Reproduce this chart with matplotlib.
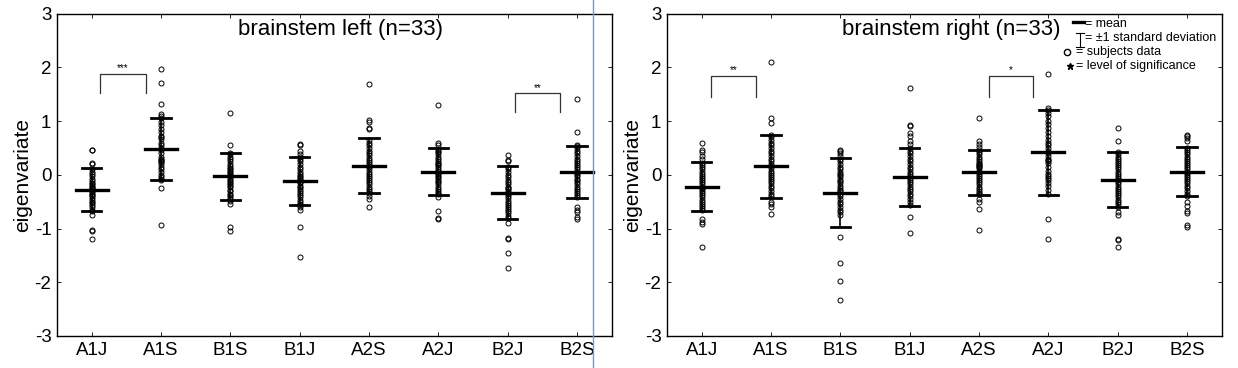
import matplotlib
matplotlib.use('Agg')
import matplotlib.pyplot as plt
from matplotlib.lines import Line2D

plt.rcParams['font.family'] = ['Liberation Sans', 'DejaVu Sans']
plt.rcParams['axes.unicode_minus'] = False

groups_left = ['A1J', 'A1S', 'B1S', 'B1J', 'A2S', 'A2J', 'B2J', 'B2S']
groups_right = ['A1J', 'A1S', 'B1S', 'B1J', 'A2S', 'A2J', 'B2J', 'B2S']

# group means and standard deviations
left_mean = [-0.28, 0.48, -0.03, -0.12, 0.17, 0.06, -0.33, 0.05]
left_sd = [0.40, 0.58, 0.44, 0.45, 0.51, 0.43, 0.50, 0.49]
right_mean = [-0.22, 0.16, -0.33, -0.04, 0.05, 0.42, -0.09, 0.06]
right_sd = [0.45, 0.59, 0.64, 0.54, 0.42, 0.795, 0.515, 0.45]

# subject data, left panel
l_a1j = [0.47, 0.46, 0.22, 0.2, -0.75, -1.02, -1.04, -1.2, 0.1, 0.05, 0.02, -0.03, -0.08,
         -0.12, -0.15, -0.18, -0.2, -0.23, -0.25, -0.27, -0.3, -0.32, -0.35, -0.38, -0.4,
         -0.43, -0.46, -0.5, -0.53, -0.57, -0.6, -0.65, -0.68]
l_a1s = [1.96, 1.7, 1.32, 1.13, 1.1, -0.25, -0.93, 1.05, 0.98, 0.92, 0.85, 0.8, 0.72, 0.66,
         0.6, 0.55, 0.5, 0.46, 0.4, 0.33, 0.28, 0.25, 0.2, 0.15, 0.1, 0.05, 0.0, -0.05,
         -0.08, -0.1, 0.3, 0.24, 0.7]
l_b1s = [1.15, 0.56, -0.55, -0.98, -1.05, 0.4, 0.38, 0.33, 0.3, 0.25, 0.2, 0.17, 0.12, 0.1,
         0.05, 0.02, 0.0, -0.03, -0.06, -0.1, -0.12, -0.15, -0.18, -0.2, -0.23, -0.28, -0.3,
         -0.35, -0.38, -0.42, -0.45, -0.48, 0.08]
l_b1j = [0.57, 0.55, 0.45, 0.38, -0.6, -0.65, -0.97, -1.53, 0.33, 0.3, 0.25, 0.2, 0.15, 0.1,
         0.05, 0.02, -0.02, -0.05, -0.08, -0.1, -0.13, -0.16, -0.2, -0.23, -0.26, -0.3,
         -0.34, -0.38, -0.42, -0.46, -0.5, -0.54, -0.57]
l_a2s = [1.69, 1.02, 0.98, 0.88, 0.86, -0.4, -0.45, -0.6, 0.65, 0.6, 0.55, 0.5, 0.45, 0.4,
         0.36, 0.32, 0.28, 0.24, 0.2, 0.17, 0.14, 0.1, 0.06, 0.02, -0.02, -0.06, -0.1,
         -0.14, -0.18, -0.22, -0.26, -0.3, -0.34]
l_a2j = [1.29, 0.6, 0.55, -0.42, -0.68, -0.8, -0.83, 0.48, 0.45, 0.42, 0.38, 0.34, 0.3,
         0.26, 0.22, 0.18, 0.14, 0.1, 0.07, 0.04, 0.01, -0.02, -0.05, -0.08, -0.11, -0.14,
         -0.18, -0.22, -0.26, -0.3, -0.33, -0.36, 0.2]
l_b2j = [0.37, 0.27, 0.25, -0.9, -1.17, -1.2, -1.45, -1.74, 0.15, 0.1, 0.05, 0.0, -0.05,
         -0.1, -0.14, -0.18, -0.22, -0.26, -0.3, -0.33, -0.36, -0.4, -0.44, -0.48, -0.52,
         -0.56, -0.6, -0.64, -0.68, -0.72, -0.76, -0.8, -0.25]
l_b2s = [1.41, 0.8, 0.56, -0.6, -0.65, -0.7, -0.78, -0.83, 0.54, 0.5, 0.45, 0.4, 0.35, 0.3,
         0.26, 0.22, 0.18, 0.14, 0.1, 0.06, 0.03, 0.0, -0.03, -0.07, -0.1, -0.14, -0.18,
         -0.22, -0.26, -0.3, -0.34, -0.38, -0.42]

# subject data, right panel
r_a1j = [0.6, 0.47, 0.43, 0.35, 0.3, -0.82, -0.88, -0.92, -1.35, 0.22, 0.18, 0.14, 0.1,
         0.06, 0.02, -0.02, -0.06, -0.1, -0.14, -0.18, -0.22, -0.26, -0.3, -0.34, -0.38,
         -0.42, -0.46, -0.5, -0.54, -0.58, -0.62, -0.66, -0.25]
r_a1s = [2.1, 1.05, 0.97, -0.5, -0.55, -0.6, -0.73, 0.74, 0.7, 0.65, 0.6, 0.55, 0.5, 0.45,
         0.4, 0.35, 0.3, 0.25, 0.2, 0.16, 0.12, 0.08, 0.04, 0.0, -0.04, -0.08, -0.12, -0.16,
         -0.2, -0.25, -0.3, -0.35, -0.4]
r_b1s = [0.47, 0.44, 0.4, 0.35, -1.15, -1.65, -1.97, -2.33, 0.3, 0.25, 0.2, 0.15, 0.1,
         0.05, 0.0, -0.05, -0.1, -0.15, -0.2, -0.25, -0.3, -0.35, -0.4, -0.45, -0.5, -0.55,
         -0.6, -0.65, -0.7, -0.75, 0.02, -0.12, -0.28]
r_b1j = [1.62, 0.92, 0.9, 0.78, 0.73, 0.62, 0.58, -0.78, -1.08, 0.5, 0.45, 0.4, 0.35, 0.3,
         0.25, 0.2, 0.15, 0.1, 0.06, 0.02, -0.02, -0.06, -0.1, -0.14, -0.18, -0.22, -0.26,
         -0.3, -0.35, -0.4, -0.45, -0.5, -0.56]
r_a2s = [1.05, 0.62, 0.58, 0.52, -0.45, -0.5, -0.63, -1.02, 0.47, 0.43, 0.38, 0.34, 0.3,
         0.26, 0.22, 0.19, 0.17, 0.15, 0.12, 0.08, 0.05, 0.02, -0.02, -0.06, -0.1, -0.14,
         -0.18, -0.22, -0.26, -0.3, -0.33, -0.36, 0.2]
r_a2j = [1.87, 1.25, -0.82, -1.2, 1.2, 1.15, 1.1, 1.0, 0.95, 0.88, 0.8, 0.72, 0.65, 0.6,
         0.55, 0.5, 0.45, 0.4, 0.35, 0.3, 0.27, 0.25, 0.22, 0.15, 0.08, 0.02, -0.02, -0.06,
         -0.1, -0.15, -0.2, -0.28, -0.35]
r_b2j = [0.88, 0.63, -0.7, -0.75, -1.2, -1.22, -1.35, 0.42, 0.38, 0.34, 0.3, 0.26, 0.22,
         0.18, 0.14, 0.1, 0.06, 0.02, -0.02, -0.06, -0.1, -0.14, -0.18, -0.22, -0.26, -0.3,
         -0.34, -0.38, -0.42, -0.46, -0.5, -0.55, -0.6]
r_b2s = [0.75, 0.72, 0.68, 0.62, -0.5, -0.58, -0.68, -0.72, -0.93, -0.98, 0.5, 0.46, 0.42,
         0.38, 0.34, 0.3, 0.26, 0.22, 0.18, 0.14, 0.1, 0.06, 0.03, 0.0, -0.04, -0.08, -0.12,
         -0.16, -0.2, -0.25, -0.3, -0.35, -0.4]

left_data = [l_a1j, l_a1s, l_b1s, l_b1j, l_a2s, l_a2j, l_b2j, l_b2s]
right_data = [r_a1j, r_a1s, r_b1s, r_b1j, r_a2s, r_a2j, r_b2j, r_b2s]

# significance brackets: (x from, x to, top, leg bottom, stars)
left_sig = [(1.12, 1.78, 1.88, 1.52, '***'), (7.11, 7.76, 1.52, 1.17, '**')]
right_sig = [(1.13, 1.78, 1.84, 1.45, '**'), (5.14, 5.78, 1.84, 1.45, '*')]


def draw_panel(ax, names, data, means, sds, sig, title):
    for i, vals in enumerate(data):
        x = i + 1
        ax.plot([x] * len(vals), vals, 'o', ms=3.6, mfc='none', mec='black', mew=0.7,
                zorder=2)
        lo, hi = means[i] - sds[i], means[i] + sds[i]
        ax.plot([x, x], [lo, hi], color='black', lw=1.2, zorder=3)
        ax.plot([x - 0.14, x + 0.14], [hi, hi], color='black', lw=2.0, zorder=3)
        ax.plot([x - 0.14, x + 0.14], [lo, lo], color='black', lw=2.0, zorder=3)
        ax.plot([x - 0.23, x + 0.23], [means[i], means[i]], color='black', lw=2.4,
                zorder=4)
    for x0, x1, top, bot, stars in sig:
        ax.plot([x0, x0, x1, x1], [bot, top, top, bot], color='#333333', lw=0.9)
        ax.text((x0 + x1) / 2, top + 0.01, stars, ha='center', va='bottom', fontsize=7)
    ax.set_xlim(0.5, 8.5)
    ax.set_ylim(-3, 3)
    ax.set_xticks(range(1, 9))
    ax.set_xticklabels(names)
    ax.set_yticks(range(-3, 4))
    ax.tick_params(direction='in', length=3, width=0.6, top=True, right=True,
                   labelsize=13.5, pad=4)
    for sp in ax.spines.values():
        sp.set_linewidth(1.0)
    ax.set_ylabel('eigenvariate', fontsize=15, labelpad=2)
    ax.text(0.512, 0.95, title, transform=ax.transAxes, ha='center', va='center',
            fontsize=16)


fig = plt.figure(figsize=(12.38, 3.68), dpi=100)
ax1 = fig.add_axes([0.046, 0.087, 0.448, 0.876])
ax2 = fig.add_axes([0.5388, 0.087, 0.448, 0.876])

draw_panel(ax1, groups_left, left_data, left_mean, left_sd, left_sig,
           'brainstem left (n=33)')
draw_panel(ax2, groups_right, right_data, right_mean, right_sd, right_sig,
           'brainstem right (n=33)')

# legend drawn by hand in the right panel
tr = ax2.transAxes
ax2.plot([0.732, 0.752], [0.974, 0.974], color='black', lw=2.4, transform=tr, clip_on=False)
ax2.plot([0.737, 0.751], [0.940, 0.940], color='black', lw=0.8, transform=tr)
ax2.plot([0.744, 0.744], [0.940, 0.895], color='black', lw=0.8, transform=tr)
ax2.plot([0.737, 0.751], [0.895, 0.895], color='black', lw=0.8, transform=tr)
ax2.plot([0.722], [0.881], 'o', ms=4.5, mfc='none', mec='black', mew=1.0, transform=tr)
ax2.plot([0.726], [0.837], '*', ms=5, color='black', transform=tr)
leg_text = ['= mean', '= \u00b11 standard deviation', '= subjects data',
            '= level of significance']
leg_x = [0.754, 0.753, 0.738, 0.738]
leg_y = [0.967, 0.924, 0.881, 0.837]
for t, lx, ly in zip(leg_text, leg_x, leg_y):
    ax2.text(lx, ly, t, transform=tr, ha='left', va='center', fontsize=9)

# stray vertical rule in the original image
fig.add_artist(Line2D([593 / 1238, 593 / 1238], [0, 1], color='#6a9be0', lw=1.0,
                      transform=fig.transFigure))

fig.savefig('out.png', dpi=100)
